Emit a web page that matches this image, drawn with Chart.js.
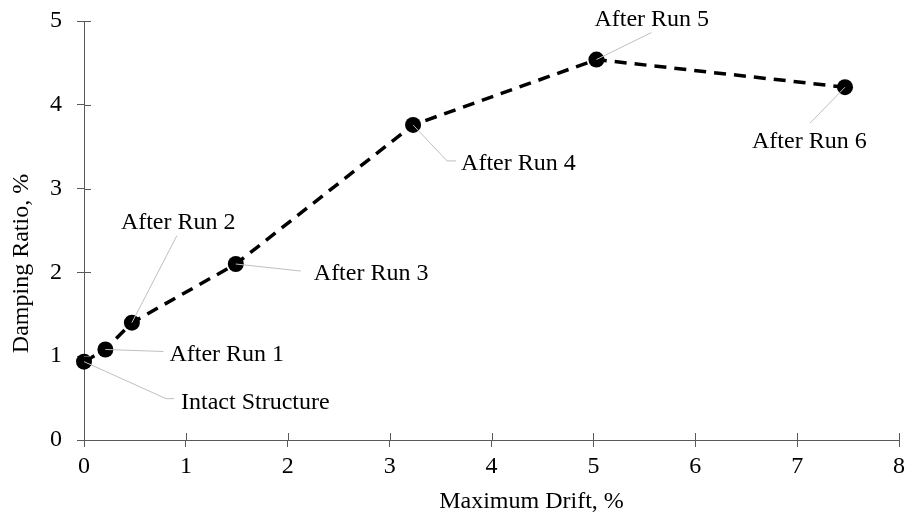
<!DOCTYPE html>
<html>
<head>
<meta charset="utf-8">
<script src="https://cdn.jsdelivr.net/npm/chart.js@4.4.1/dist/chart.umd.min.js"></script>
<style>
  html, body { margin: 0; padding: 0; background: #fff; }
</style>
</head>
<body>
<canvas id="chart" width="908" height="517"></canvas>
<script>
// data
const drift = [0, 0.21, 0.47, 1.49, 3.23, 5.03, 7.47];
const damping = [0.935, 1.08, 1.40, 2.10, 3.76, 4.54, 4.21];
const pointNames = ["Intact Structure", "After Run 1", "After Run 2", "After Run 3",
                    "After Run 4", "After Run 5", "After Run 6"];
const xTicks = [0, 1, 2, 3, 4, 5, 6, 7, 8];
const yTicks = [0, 1, 2, 3, 4, 5];
const xTitle = "Maximum Drift, %";
const yTitle = "Damping Ratio, %";

const FONT = '"Liberation Serif", "Times New Roman", serif';
const AXIS = '#595959';

// callout placement in px, relative to each point (leader path, text baseline-left)
const callouts = [
  { leader: [[82, 37], [90, 37]], text: [97, 47] },
  { leader: [[58, 2]], text: [64, 12] },
  { leader: [[45, -87]], text: [-11, -94] },
  { leader: [[65, 7]], text: [78, 16] },
  { leader: [[34, 36], [43, 36]], text: [48, 45] },
  { leader: [[55, -27]], text: [-2, -34] },
  { leader: [[-35, 36]], text: [-93, 61] }
];

const points = drift.map((x, i) => ({ x: x, y: damping[i] }));

const extras = {
  id: 'extras',
  afterDatasetsDraw(chart) {
    const ctx = chart.ctx;
    const meta = chart.getDatasetMeta(0);
    ctx.save();
    meta.data.forEach((pt, i) => {
      const c = callouts[i];
      ctx.strokeStyle = '#bfbfbf';
      ctx.lineWidth = 1;
      ctx.beginPath();
      ctx.moveTo(pt.x, pt.y);
      c.leader.forEach(p => ctx.lineTo(pt.x + p[0], pt.y + p[1]));
      ctx.stroke();
      ctx.fillStyle = '#000';
      ctx.font = '24px ' + FONT;
      ctx.textAlign = 'left';
      ctx.textBaseline = 'alphabetic';
      ctx.fillText(pointNames[i], pt.x + c.text[0], pt.y + c.text[1]);
    });
    ctx.restore();
  },
  afterDraw(chart) {
    const ctx = chart.ctx;
    const xs = chart.scales.x, ys = chart.scales.y;
    const area = chart.chartArea;
    ctx.save();
    // inner half of the crossing tick marks
    ctx.strokeStyle = AXIS;
    ctx.lineWidth = 1;
    ctx.beginPath();
    xTicks.forEach(v => {
      const px = Math.round(xs.getPixelForValue(v)) + 0.5;
      ctx.moveTo(px, area.bottom);
      ctx.lineTo(px, area.bottom - 7);
    });
    yTicks.forEach(v => {
      const py = Math.round(ys.getPixelForValue(v)) + 0.5;
      ctx.moveTo(area.left, py);
      ctx.lineTo(area.left + 7, py);
    });
    ctx.stroke();

    // axis titles
    ctx.fillStyle = '#000';
    ctx.font = '24px ' + FONT;
    ctx.textAlign = 'center';
    ctx.textBaseline = 'alphabetic';
    ctx.fillText(xTitle, (area.left + area.right) / 2 + 40, area.bottom + 68);
    ctx.translate(28, (area.top + area.bottom) / 2 + 33);
    ctx.rotate(-Math.PI / 2);
    ctx.fillText(yTitle, 0, 0);
    ctx.restore();
  }
};

new Chart("chart", {
  type: "scatter",
  data: {
    datasets: [{
      data: points,
      showLine: true,
      borderColor: '#000',
      borderWidth: 3.5,
      borderDash: [12, 8],
      pointRadius: 8,
      pointBackgroundColor: '#000',
      pointBorderWidth: 0,
      clip: false
    }]
  },
  options: {
    responsive: false,
    animation: false,
    events: [],
    layout: { padding: { top: 21, right: 9, left: 0, bottom: 0 } },
    plugins: {
      legend: { display: false },
      tooltip: { enabled: false }
    },
    scales: {
      x: {
        type: 'linear',
        min: 0,
        max: 8,
        afterFit: s => { s.height = 77; s.paddingLeft = 0; s.paddingRight = 0; },
        grid: { drawOnChartArea: false, drawTicks: true, tickLength: 7, color: AXIS },
        border: { color: AXIS, width: 1 },
        ticks: {
          stepSize: 1,
          color: '#000',
          padding: 5,
          font: { family: FONT, size: 24 }
        }
      },
      y: {
        type: 'linear',
        min: 0,
        max: 5,
        afterFit: s => { s.width = 84; s.paddingTop = 0; s.paddingBottom = 0; },
        grid: { drawOnChartArea: false, drawTicks: true, tickLength: 7, color: AXIS },
        border: { color: AXIS, width: 1 },
        ticks: {
          stepSize: 1,
          color: '#000',
          padding: 15,
          font: { family: FONT, size: 24 }
        }
      }
    }
  },
  plugins: [extras]
});
</script>
</body>
</html>
